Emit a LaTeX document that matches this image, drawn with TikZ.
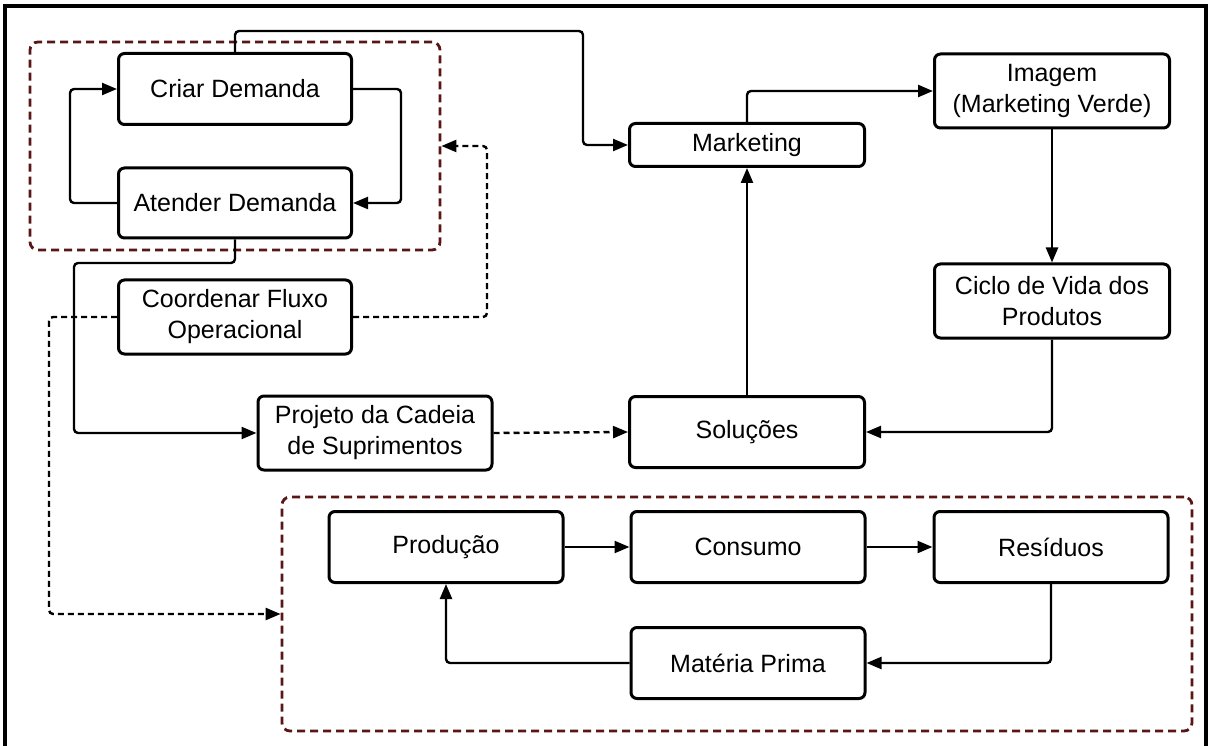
\documentclass[tikz,border=0pt]{standalone}
\usepackage{fontspec}
\setmainfont{Liberation Sans}
\usetikzlibrary{arrows.meta}
\definecolor{grpred}{HTML}{5A1515}
\begin{document}
\begin{tikzpicture}[x=1pt,y=-1pt,
  box/.style={draw, line width=3pt, rounded corners=6pt, align=center,
    inner sep=0pt, font=\fontsize{25}{31}\selectfont},
  grp/.style={draw=grpred, line width=2.8pt, rounded corners=8pt,
    dash pattern=on 8pt off 5pt, inner sep=0pt},
  conn/.style={line width=2.4pt, rounded corners=4pt,
    -{Triangle[length=15pt,width=12pt]}},
  dconn/.style={conn, dash pattern=on 6pt off 4pt}]
\useasboundingbox (0,0) rectangle (1211,746);
% outer frame, open at the bottom
\draw[line width=3.5pt] (5,746) -- (5,6) -- (1206,6) -- (1206,746);

% demand group
\node[grp, minimum width=410pt, minimum height=208pt] (grp1) at (235,146) {};
\node[box, minimum width=233pt, minimum height=71pt] (crd) at (235,89) {Criar Demanda};
\node[box, minimum width=233pt, minimum height=70pt] (atd) at (235,203) {Atender Demanda};

\node[box, minimum width=233pt, minimum height=74pt] (cfo) at (235,317) {Coordenar Fluxo\\Operacional};
\node[box, minimum width=234pt, minimum height=74pt] (prj) at (375,433) {Projeto da Cadeia\\de Suprimentos};

\node[box, minimum width=235pt, minimum height=43pt] (mkt) at (747,145) {Marketing};
\node[box, minimum width=235pt, minimum height=74pt] (img) at (1052,91) {Imagem\\(Marketing Verde)};
\node[box, minimum width=235pt, minimum height=74pt] (cic) at (1052,301) {Ciclo de Vida dos\\Produtos};
\node[box, minimum width=235pt, minimum height=71pt] (sol) at (747,432) {Soluções};

% production cycle group
\node[grp, minimum width=910pt, minimum height=234pt] (grp2) at (737,614) {};
\node[box, minimum width=234pt, minimum height=71pt] (pro) at (446,547) {Produção};
\node[box, minimum width=234pt, minimum height=71pt] (con) at (748,547) {Consumo};
\node[box, minimum width=234pt, minimum height=71pt] (res) at (1051,547) {Resíduos};
\node[box, minimum width=234pt, minimum height=71pt] (mat) at (748,663) {Matéria Prima};

% connectors
\draw[conn] (crd.north) |- (583,31) |- (mkt.west);
\draw[conn] (crd.east) -- ++(48,0) |- (atd.east);
\draw[conn] (atd.west) -- ++(-47,0) |- (crd.west);
\draw[conn] (atd.south) |- (74,263) |- (prj.west);
\draw[dconn] (cfo.east) -| (487,146) -- (grp1.east);
\draw[dconn] (cfo.west) -| (49,614) -- (grp2.west);
\draw[dconn] (prj.east) -- (sol.west);
\draw[conn] (sol.north) -- (mkt.south);
\draw[conn] (mkt.north) |- (img.west);
\draw[conn] (img.south) -- (cic.north);
\draw[conn] (cic.south) |- (sol.east);
\draw[conn] (pro.east) -- (con.west);
\draw[conn] (con.east) -- (res.west);
\draw[conn] (res.south) |- (mat.east);
\draw[conn] (mat.west) -| (pro.south);
\end{tikzpicture}
\end{document}
